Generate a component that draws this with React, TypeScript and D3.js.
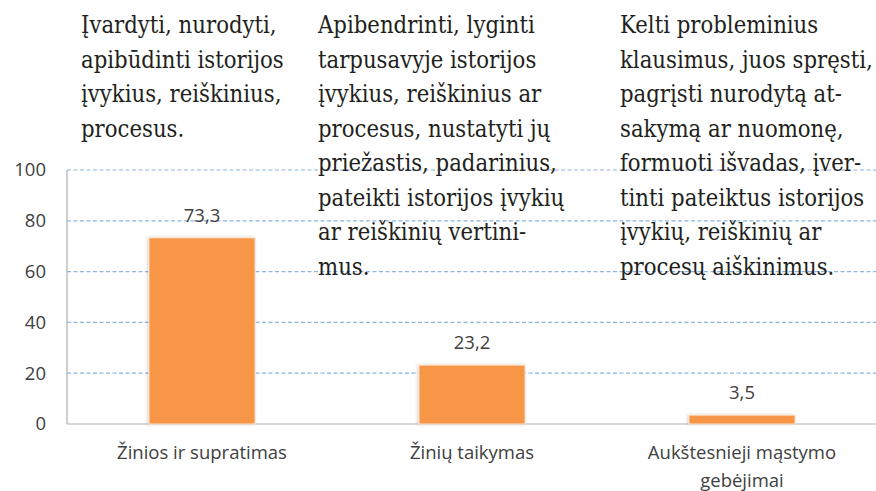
import React from 'react';
import * as d3 from 'd3';

// chart values
const categories = ['Žinios ir supratimas', 'Žinių taikymas', 'Aukštesnieji mąstymo gebėjimai'];
const values = [73.3, 23.2, 3.5];
const yTicks = [0, 20, 40, 60, 80, 100];

// category labels split into lines as in the source
const categoryLines = [['Žinios ir supratimas'], ['Žinių taikymas'], ['Aukštesnieji mąstymo', 'gebėjimai']];

// descriptive text over each column
const note1 = ['Įvardyti, nurodyti,', 'apibūdinti istorijos', 'įvykius, reiškinius,', 'procesus.'];
const note2 = [
  'Apibendrinti, lyginti',
  'tarpusavyje istorijos',
  'įvykius, reiškinius ar',
  'procesus, nustatyti jų',
  'priežastis, padarinius,',
  'pateikti istorijos įvykių',
  'ar reiškinių vertini-',
  'mus.',
];
const note3 = [
  'Kelti probleminius',
  'klausimus, juos spręsti,',
  'pagrįsti nurodytą at-',
  'sakymą ar nuomonę,',
  'formuoti išvadas, įver-',
  'tinti pateiktus istorijos',
  'įvykių, reiškinių ar',
  'procesų aiškinimus.',
];

const W = 876;
const H = 491;

const App = () => {
  const x = d3.scaleBand()
    .domain(categories)
    .range([67, 877])
    .paddingInner(0.607)
    .paddingOuter(0.3035);

  const y = d3.scaleLinear().domain([0, 100]).range([424, 170]);

  const sans = 'Open Sans, Liberation Sans, sans-serif';
  const serif = 'DejaVu Serif';
  const fmt = (v) => d3.format('.1f')(v).replace('.', ',');

  const notes = [
    { lines: note1, x: 81 },
    { lines: note2, x: 318 },
    { lines: note3, x: 620 },
  ];

  return (
    <svg width={W} height={H} style={{ position: 'absolute', left: 0, top: 0, background: '#fff' }}>
      <defs>
        <filter id="shadow" x="-20%" y="-20%" width="140%" height="140%">
          <feDropShadow dx="-1" dy="0" stdDeviation="1.5" floodColor="#000" floodOpacity="0.18" />
        </filter>
      </defs>

      {/* grid */}
      {yTicks.filter(t => t > 0).map(t => (
        <line key={t} x1={67} x2={W} y1={y(t)} y2={y(t)}
          stroke="#8fb4e0" strokeWidth={1.2} strokeDasharray="4,2.5" />
      ))}

      {/* axes */}
      <line x1={67} x2={67} y1={y(100)} y2={y(0)} stroke="#b0b0b0" strokeWidth={1.2} />
      <line x1={67} x2={W} y1={y(0)} y2={y(0)} stroke="#b0b0b0" strokeWidth={1.2} />

      {yTicks.map(t => (
        <text key={t} x={46} y={y(t)} dy="0.35em" textAnchor="end"
          style={{ fontFamily: sans }} fontSize={18.5} fill="#404040">{t}</text>
      ))}

      {/* bars */}
      {categories.map((c, i) => (
        <g key={c}>
          <rect x={x(c)} y={y(values[i])} width={x.bandwidth()} height={y(0) - y(values[i])}
            fill="#f79646" stroke="#fde6d2" strokeWidth={1} filter="url(#shadow)" />
          <text x={x(c) + x.bandwidth() / 2} y={y(values[i]) - 16} textAnchor="middle"
            style={{ fontFamily: sans }} fontSize={18.5} fill="#404040">{fmt(values[i])}</text>
          {categoryLines[i].map((ln, j) => (
            <text key={j} x={x(c) + x.bandwidth() / 2} y={459 + j * 28} textAnchor="middle"
              style={{ fontFamily: sans }} fontSize={18.5} fill="#404040">{ln}</text>
          ))}
        </g>
      ))}

      {/* overlaid descriptions (serif squeezed a little to fit the narrower original face) */}
      {notes.map((n, k) => (
        <g key={k}>
          {n.lines.map((ln, j) => (
            <text key={j} transform={`translate(${n.x},${33 + j * 34.5}) scale(0.85,1)`}
              style={{ fontFamily: serif }} fontSize={25} fill="#231f20">{ln}</text>
          ))}
        </g>
      ))}
    </svg>
  );
};

export default App;
